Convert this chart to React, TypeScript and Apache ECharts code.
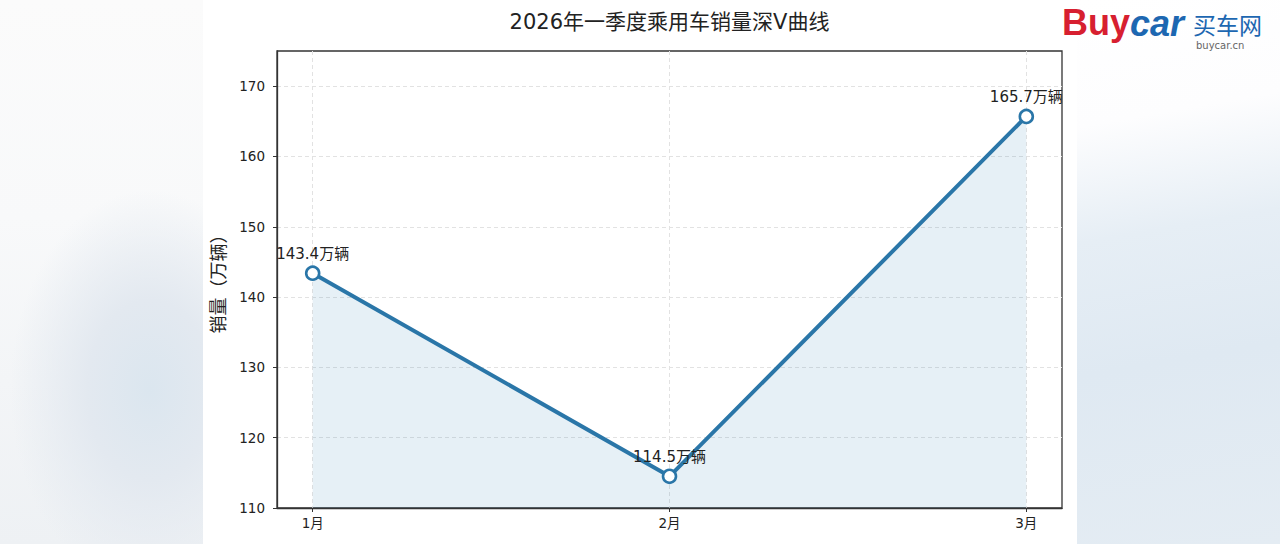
import React, { useEffect, useRef } from "react";
import * as echarts from "echarts";

const months = ["1月", "2月", "3月"];
const sales = [143.4, 114.5, 165.7];
const monthPositions = [0, 1, 2];
const yTicks = [110, 120, 130, 140, 150, 160, 170];
const titleText = "2026年一季度乘用车销量深V曲线";
const yAxisName = "销量（万辆）";
const unit = "万辆";

const LINE = "#2a76a8";
const FONT = "'DejaVu Sans', 'Noto Sans CJK SC', sans-serif";

export default function App() {
  const ref = useRef<HTMLDivElement>(null);

  useEffect(() => {
    document.body.style.margin = "0";
    if (!ref.current) return;
    const chart = echarts.init(ref.current, null, { renderer: "svg" });
    const data = monthPositions.map((x, i) => [x, sales[i]]);
    chart.setOption({
      animation: false,
      textStyle: { fontFamily: FONT },
      grid: {
        left: 277,
        right: 218,
        top: 51,
        bottom: 36,
        show: true,
        borderColor: "#333",
        borderWidth: 1.3,
        backgroundColor: "transparent",
      },
      xAxis: {
        type: "value",
        min: -0.1,
        max: 2.1,
        axisLine: { show: true, onZero: false, lineStyle: { color: "#333", width: 1.3 } },
        axisTick: {
          show: true,
          length: 4,
          customValues: monthPositions,
          lineStyle: { color: "#333" },
        },
        axisLabel: {
          customValues: monthPositions,
          formatter: (v: number) => months[Math.round(v)] ?? "",
          color: "#222",
          fontSize: 13.5,
          margin: 8,
          fontFamily: FONT,
        },
        splitLine: {
          show: true,
          lineStyle: { color: "#e2e2e2", type: [4, 3], width: 1 },
        },
      },
      yAxis: {
        type: "value",
        min: 110,
        max: 175,
        interval: 10,
        name: yAxisName,
        nameLocation: "middle",
        nameGap: 50,
        nameRotate: 90,
        nameTextStyle: { fontSize: 18, color: "#222", fontFamily: FONT },
        axisLine: { show: true, onZero: false, lineStyle: { color: "#333", width: 1.3 } },
        axisTick: {
          show: true,
          length: 4,
          customValues: yTicks,
          lineStyle: { color: "#333" },
        },
        axisLabel: {
          customValues: yTicks,
          color: "#222",
          fontSize: 13.5,
          margin: 12,
          fontFamily: FONT,
        },
        splitLine: {
          show: true,
          lineStyle: { color: "#e2e2e2", type: [4, 3], width: 1 },
        },
      },
      series: [
        {
          type: "line",
          data,
          lineStyle: { color: LINE, width: 4 },
          symbol: "circle",
          symbolSize: 13,
          itemStyle: { color: "#fff", borderColor: LINE, borderWidth: 2.6 },
          areaStyle: { color: "rgba(31,119,180,0.16)", origin: "start" },
          label: {
            show: true,
            position: "top",
            distance: 4,
            formatter: (p: any) => `${p.value[1]}${unit}`,
            fontSize: 15,
            color: "#222",
            fontFamily: FONT,
          },
          z: 3,
        },
      ],
      graphic: [
        {
          type: "text",
          x: 669.5,
          y: 22,
          style: {
            text: titleText,
            fontSize: 21,
            fill: "#222",
            fontFamily: FONT,
            textAlign: "center",
            textVerticalAlign: "middle",
          },
        },
        {
          type: "text",
          x: 1062,
          y: 22,
          style: {
            text: "Buy",
            fontSize: 36,
            fontWeight: 900,
            fill: "#d71f30",
            fontFamily: "'Liberation Sans', Arial, sans-serif",
            textVerticalAlign: "middle",
          },
        },
        {
          type: "text",
          x: 1130,
          y: 23,
          style: {
            text: "car",
            fontSize: 36,
            fontWeight: 900,
            fontStyle: "italic",
            fill: "#1d67b1",
            fontFamily: "'Liberation Sans', Arial, sans-serif",
            textVerticalAlign: "middle",
          },
        },
        {
          type: "text",
          x: 1193,
          y: 24,
          style: {
            text: "买车网",
            fontSize: 23,
            fill: "#1d67b1",
            fontFamily: "'Noto Sans CJK SC', sans-serif",
            textVerticalAlign: "middle",
          },
        },
        {
          type: "text",
          x: 1196,
          y: 45,
          style: {
            text: "buycar.cn",
            fontSize: 10,
            fill: "#666",
            fontFamily: "'DejaVu Sans', sans-serif",
            textVerticalAlign: "middle",
          },
        },
      ],
    });
    return () => chart.dispose();
  }, []);

  return (
    <div style={{ position: "relative", width: 1280, height: 544, overflow: "hidden", background: "#f6f8fa" }}>
      <div
        style={{
          position: "absolute",
          left: 0,
          top: 0,
          width: 203,
          height: 544,
          background:
            "radial-gradient(ellipse 140px 200px at 150px 390px, #dbe6ef 0%, #e3e9f0 45%, rgba(238,241,245,0) 100%), linear-gradient(to bottom, #fbfbfb 0%, #f8f9fa 40%, #eef1f4 100%)",
        }}
      />
      <div
        style={{
          position: "absolute",
          left: 1077,
          top: 0,
          width: 203,
          height: 544,
          background:
            "linear-gradient(170deg, #ffffff 0%, #fdfdfe 22%, #e6eef5 42%, #dfe9f2 65%, #e4ecf3 100%)",
        }}
      />
      <div style={{ position: "absolute", left: 203, top: 0, width: 874, height: 544, background: "#ffffff" }} />
      <div ref={ref} style={{ position: "absolute", left: 0, top: 0, width: 1280, height: 544 }} />
    </div>
  );
}
